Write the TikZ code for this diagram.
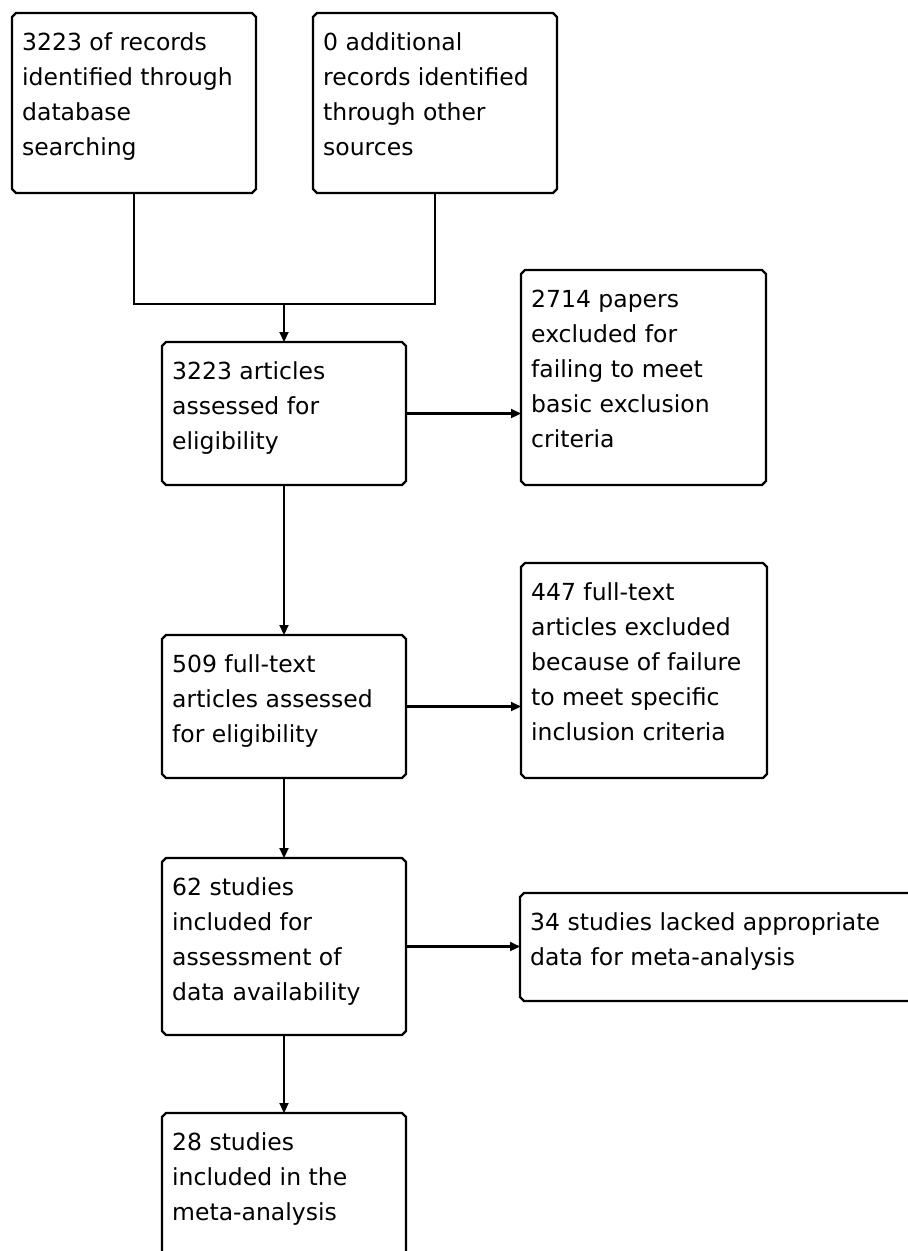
\documentclass[tikz,border=0pt]{standalone}
\usepackage{fontspec}
\setmainfont{DejaVu Sans}
\usetikzlibrary{arrows.meta}
\newcommand\chbox[1]{%
  \draw[boxline] ([xshift=4pt]#1.north west) -- ([xshift=-4pt]#1.north east)
    -- ([yshift=-4pt]#1.north east) -- ([yshift=4pt]#1.south east)
    -- ([xshift=-4pt]#1.south east) -- ([xshift=4pt]#1.south west)
    -- ([yshift=4pt]#1.south west) -- ([yshift=-4pt]#1.north west) -- cycle;}
\begin{document}
\begin{tikzpicture}[x=1pt,y=-1pt,
  boxline/.style={line width=2.2pt, line join=miter},
  conn/.style={line width=2.2pt},
  arr/.style={conn,-{Triangle[length=10pt,width=9pt]}},
  frame/.style={anchor=north west, inner sep=0pt, outer sep=0pt, draw=none},
  txt/.style={anchor=north west, inner sep=0pt, align=left, font=\fontsize{23.5}{35}\selectfont}
]
\useasboundingbox (0,0) rectangle (908,1251);
\clip (0,0) rectangle (908,1251);
\fill[white] (0,0) rectangle (908,1251);

% box frames
\node[frame, minimum width=244pt, minimum height=180pt] (A) at (12,13) {};
\node[frame, minimum width=244pt, minimum height=180pt] (B) at (313,13) {};
\node[frame, minimum width=244pt, minimum height=143pt] (C) at (162,342) {};
\node[frame, minimum width=245pt, minimum height=215pt] (D) at (521,270) {};
\node[frame, minimum width=244pt, minimum height=143pt] (E) at (162,635) {};
\node[frame, minimum width=246pt, minimum height=215pt] (F) at (521,563) {};
\node[frame, minimum width=244pt, minimum height=177pt] (G) at (162,858) {};
\node[frame, minimum width=420pt, minimum height=108pt] (H) at (520,893) {};
\node[frame, minimum width=244pt, minimum height=177pt] (I) at (162,1113) {};

\foreach \n in {A,B,C,D,E,F,G,H,I} {\chbox{\n}}

% texts
\node[txt] (At) at ([xshift=10pt,yshift=-12.5pt]A.north west) {\strut 3223 of records\\identified through\\database\\searching};
\node[txt] (Bt) at ([xshift=10pt,yshift=-12.5pt]B.north west) {\strut 0 additional\\records identified\\through other\\sources};
\node[txt] (Ct) at ([xshift=10pt,yshift=-12.5pt]C.north west) {\strut 3223 articles\\assessed for\\eligibility};
\node[txt] (Dt) at ([xshift=10pt,yshift=-12.5pt]D.north west) {\strut 2714 papers\\excluded for\\failing to meet\\basic exclusion\\criteria};
\node[txt] (Et) at ([xshift=10pt,yshift=-12.5pt]E.north west) {\strut 509 full-text\\articles assessed\\for eligibility};
\node[txt] (Ft) at ([xshift=10pt,yshift=-12.5pt]F.north west) {\strut 447 full-text\\articles excluded\\because of failure\\to meet specific\\inclusion criteria};
\node[txt] (Gt) at ([xshift=10pt,yshift=-12.5pt]G.north west) {\strut 62 studies\\included for\\assessment of\\data availability};
\node[txt] (Ht) at ([xshift=10pt,yshift=-12.5pt]H.north west) {\strut 34 studies lacked appropriate\\data for meta-analysis};
\node[txt] (It) at ([xshift=10pt,yshift=-12.5pt]I.north west) {\strut 28 studies\\included in the\\meta-analysis};

% connectors
\coordinate (J) at (284,304);
\draw[conn] (A.south) |- (J);
\draw[conn] (B.south) |- (J);
\draw[arr] (J) -- (C.north);
\draw[arr] (C.east) -- (C.east -| D.west);
\draw[arr] (C.south) -- (E.north);
\draw[arr] (E.east) -- (E.east -| F.west);
\draw[arr] (E.south) -- (G.north);
\draw[arr] (G.east) -- (G.east -| H.west);
\draw[arr] (G.south) -- (I.north);
\end{tikzpicture}
\end{document}
